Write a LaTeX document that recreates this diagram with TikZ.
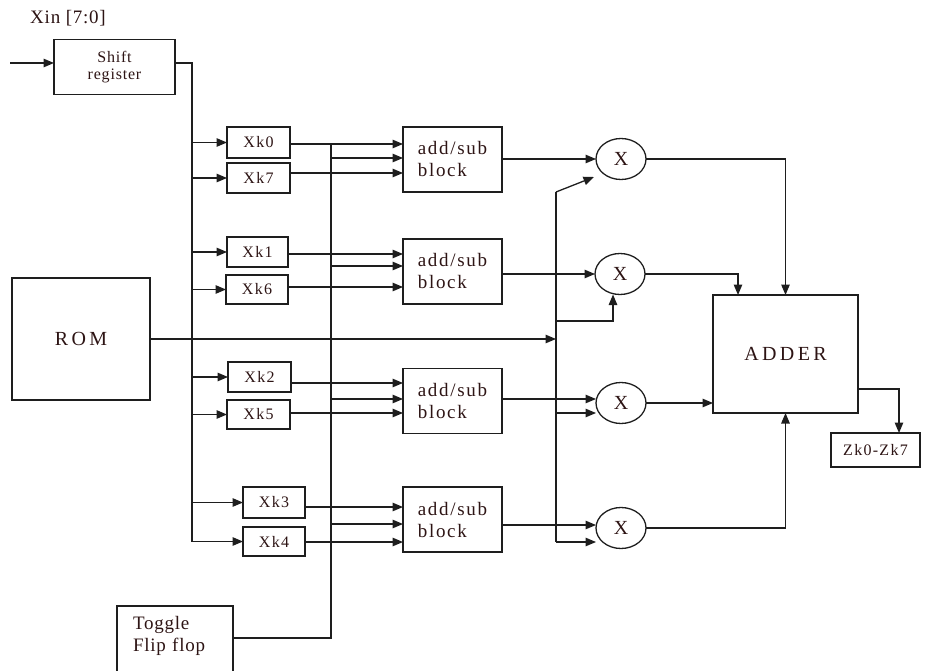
\documentclass[tikz,border=0pt]{standalone}
\usepackage{fontspec}
\setmainfont{Liberation Serif}
\newfontfamily\fA[LetterSpace=9]{Liberation Serif}
\newfontfamily\fB[LetterSpace=17]{Liberation Serif}
\newfontfamily\fC[LetterSpace=4]{Liberation Serif}
\newfontfamily\fD[LetterSpace=8]{Liberation Serif}
\newfontfamily\fE[LetterSpace=5]{Liberation Serif}
\usetikzlibrary{arrows.meta,shapes.geometric,calc}
\definecolor{txt}{RGB}{45,20,20}
\definecolor{ln}{RGB}{30,30,30}
\begin{document}
\begin{tikzpicture}[x=1pt,y=-1pt,
  box/.style={draw=ln, line width=1.3pt, inner sep=0pt, outer sep=0pt, text=txt, align=center},
  xkbox/.style={box, minimum width=62pt, minimum height=30pt, font={\fD\fontsize{16}{16}\selectfont}},
  addbox/.style={box, minimum width=99pt, minimum height=65pt, align=left, font={\fA\fontsize{19}{22}\selectfont}},
  wire/.style={draw=ln, line width=1.3pt},
  arr/.style={wire, -{Triangle[length=10.5pt,width=8.5pt]}},
  mult/.style={ellipse, draw=ln, line width=1.3pt, minimum width=50pt, minimum height=41pt, inner sep=0pt, outer sep=0pt, text=txt, font={\fE\fontsize{20}{20}\selectfont}}]
\useasboundingbox (0,0) rectangle (926,671);
\clip (0,0) rectangle (926,671);

% title
\node[text=txt, font={\fC\fontsize{19}{20}\selectfont}] (xin) at (68,18) {Xin [7:0]};

% shift register and bus
\node[box, minimum width=121pt, minimum height=55pt, font={\fE\fontsize{16}{17}\selectfont}] (sr) at (114.5,67) {Shift\\register};
\coordinate (in) at (10,63);
\draw[arr] (in) -- (sr.west |- in);
\coordinate (b0) at (192,63);

% Xk boxes
\node[xkbox, minimum width=63pt, minimum height=31pt] (xk0) at (258.5,142.5) {Xk0};
\node[xkbox, minimum width=63pt] (xk7) at (258.5,178) {Xk7};
\node[xkbox, minimum width=61pt] (xk1) at (257.5,252) {Xk1};
\node[xkbox, minimum height=29pt] (xk6) at (257,289.5) {Xk6};
\node[xkbox, minimum width=63pt] (xk2) at (259.5,377) {Xk2};
\node[xkbox, minimum width=63pt, minimum height=29pt] (xk5) at (258.5,414.5) {Xk5};
\node[xkbox, minimum height=31pt] (xk3) at (274,502.5) {Xk3};
\node[xkbox, minimum height=29pt] (xk4) at (274,541.5) {Xk4};

\draw[wire] (sr.east |- b0) -- (b0) -- (b0 |- xk4.west);
\foreach \k in {xk0,xk7,xk1,xk6,xk2,xk5,xk3,xk4}
  \draw[arr] (\k.west -| b0) -- (\k.west);

% add/sub blocks
\node[addbox] (add1) at (452.5,159.5) {add/sub\\block};
\node[addbox] (add2) at (452.5,271.5) {add/sub\\block};
\node[addbox] (add3) at (452.5,401) {add/sub\\block};
\node[addbox] (add4) at (452.5,519.5) {add/sub\\block};

\coordinate (i1a) at (403,144); \coordinate (i1b) at (403,158); \coordinate (i1c) at (403,173);
\coordinate (i2a) at (403,254); \coordinate (i2b) at (403,266); \coordinate (i2c) at (403,287);
\coordinate (i3a) at (403,383); \coordinate (i3b) at (403,399); \coordinate (i3c) at (403,413);
\coordinate (i4a) at (403,507); \coordinate (i4b) at (403,524); \coordinate (i4c) at (403,542);

\draw[arr] (xk0.east |- i1a) -- (i1a);
\draw[arr] (xk7.east |- i1c) -- (i1c);
\draw[arr] (xk1.east |- i2a) -- (i2a);
\draw[arr] (xk6.east |- i2c) -- (i2c);
\draw[arr] (xk2.east |- i3a) -- (i3a);
\draw[arr] (xk5.east |- i3c) -- (i3c);
\draw[arr] (xk3.east |- i4a) -- (i4a);
\draw[arr] (xk4.east |- i4c) -- (i4c);

% toggle flip flop
\node[box, anchor=north west, align=left, inner xsep=16pt, inner ysep=10pt, text width=84pt, text depth=45pt,
  font={\fC\fontsize{19}{22}\selectfont}] (tff) at (117,606) {Toggle\\Flip flop};
\coordinate (t0) at (331,638);
\coordinate (tv) at (331,145);
\draw[wire] (tff.east |- t0) -- (t0) -- (tv);
\foreach \c in {i1b,i2b,i3b,i4b}
  \draw[arr] (tv |- \c) -- (\c);

% ROM
\node[box, minimum width=138pt, minimum height=122pt, font={\fB\fontsize{20}{20}\selectfont}] (rom) at (81,339) {ROM};

% multipliers
\node[mult] (X1) at (621,159) {X};
\node[mult] (X2) at (620,274) {X};
\node[mult] (X3) at (621,403) {X};
\node[mult] (X4) at (621,528) {X};

\draw[arr] (add1.east |- X1) -- (X1.west);
\draw[arr] (add2.east |- X2) -- (X2.west);
\coordinate (x3a) at ($(X3.west)+(0,-4)$);
\coordinate (x3b) at ($(X3.west)+(0,10)$);
\coordinate (x4a) at ($(X4.west)+(0,-3)$);
\coordinate (x4b) at ($(X4.west)+(0,14)$);
\draw[arr] (add3.east |- x3a) -- (x3a);
\draw[arr] (add4.east |- x4a) -- (x4a);

% coefficient distribution line
\coordinate (vt) at (556,192);
\coordinate (v2) at (556,321);
\coordinate (x1b) at ($(X1.west)+(-2,18)$);
\coordinate (x2b) at ($(X2.south)+(-7,0)$);
\draw[wire] (vt) -- (vt |- x4b);
\draw[arr] (rom.east) -- (rom.east -| vt);
\draw[arr] (vt) -- (x1b);
\draw[arr] (v2) -| (x2b);
\draw[arr] (vt |- x3b) -- (x3b);
\draw[arr] (vt |- x4b) -- (x4b);

% adder
\node[box, minimum width=145pt, minimum height=118pt, font={\fB\fontsize{20}{20}\selectfont}] (adder) at (785.5,354) {ADDER};
\coordinate (a2top) at ($(adder.north west)+(25,0)$);
\draw[arr] (X1.east) -| (adder.north);
\draw[arr] (X2.east) -| (a2top);
\draw[arr] (X3.east) -- (X3.east -| adder.west);
\draw[arr] (X4.east) -| (adder.south);

% output
\node[box, minimum width=89pt, minimum height=34pt, font={\fD\fontsize{16}{16}\selectfont}] (zk) at (875.5,450) {Zk0-Zk7};
\coordinate (aout) at ($(adder.east)+(0,35)$);
\coordinate (zin) at ($(zk.north)+(23.5,0)$);
\draw[arr] (aout) -| (zin);
\end{tikzpicture}
\end{document}
